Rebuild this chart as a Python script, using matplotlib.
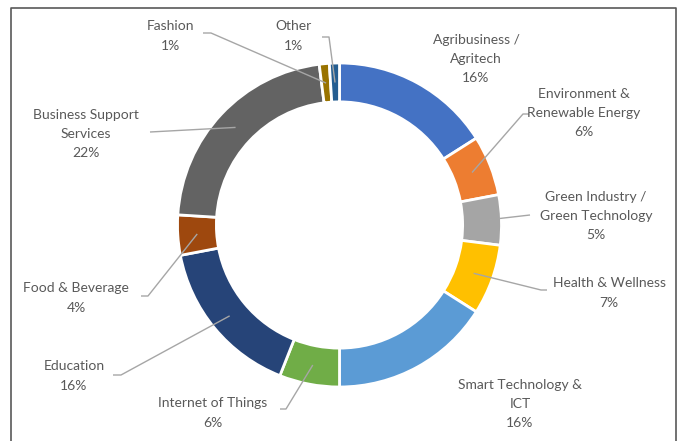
import numpy as np
import matplotlib.pyplot as plt
from matplotlib.lines import Line2D

plt.rcParams['font.family'] = ['Lato', 'DejaVu Sans']

# data
sectors = ['Agribusiness /\nAgritech', 'Environment &\nRenewable Energy',
           'Green Industry /\nGreen Technology', 'Health & Wellness',
           'Smart Technology &\nICT', 'Internet of Things', 'Education',
           'Food & Beverage', 'Business Support\nServices', 'Fashion', 'Other']
shares = [16, 6, 5, 7, 16, 6, 16, 4, 22, 1, 1]
colors = ['#4472C4', '#ED7D31', '#A5A5A5', '#FFC000', '#5B9BD5', '#70AD47',
          '#264478', '#9E480E', '#636363', '#997300', '#255E91']

# label layout in pixels: text centre, leader elbow, tick end (None = no leader)
label_pos = [(476, 59), (584, 113), (596, 216), (609, 293), (520, 404),
             (213, 413), (74, 376), (76, 298), (86, 134), (170, 36), (293, 36)]
elbows = [None, (523, 114), (530, 215), (541, 290), None,
          (286, 409), (121, 375), (148, 296), (150, 132), (211, 33), (329, 37)]
ticks = [None, (529, 114), None, (547, 290), None,
         (280, 409), (113, 375), (141, 296), None, (203, 33), (322, 37)]

W, H = 683, 441
cx, cy, R = 339.5, 225, 162


def px(x, y):
    return (x - cx) / R, (cy - y) / R


fig = plt.figure(figsize=(W / 100, H / 100), dpi=100)
ax = fig.add_axes([0, 0, 1, 1])
ax.patch.set_visible(False)

wedges, _ = ax.pie(shares, colors=colors, startangle=90, counterclock=False,
                   radius=1, wedgeprops=dict(width=0.24, edgecolor='white',
                                             linewidth=2))
ax.set_aspect('auto')
ax.set_xlim(-cx / R, (W - cx) / R)
ax.set_ylim(-(H - cy) / R, cy / R)
ax.axis('off')

grey = '#A6A6A6'
for w, name, val, lp, el, tk in zip(wedges, sectors, shares, label_pos,
                                    elbows, ticks):
    tx, ty = px(*lp)
    ax.text(tx, ty, f'{name}\n{val}%', ha='center', va='center',
            fontsize=10, color='#595959', linespacing=1.72)
    if el is None:
        continue
    ang = np.deg2rad((w.theta1 + w.theta2) / 2)
    r = 0.88
    pts = [(r * np.cos(ang), r * np.sin(ang)), px(*el)]
    if tk is not None:
        pts.append(px(*tk))
    xs, ys = zip(*pts)
    ax.plot(xs, ys, color=grey, lw=1, solid_capstyle='butt')

# chart frame (bottom edge falls outside the image)
frame = Line2D([11 / W, 11 / W, 676 / W, 676 / W],
               [0, 1 - 8 / H, 1 - 8 / H, 0], transform=fig.transFigure,
               color='#595959', lw=1.2, zorder=5)
fig.add_artist(frame)

fig.savefig('out.png', dpi=100)
